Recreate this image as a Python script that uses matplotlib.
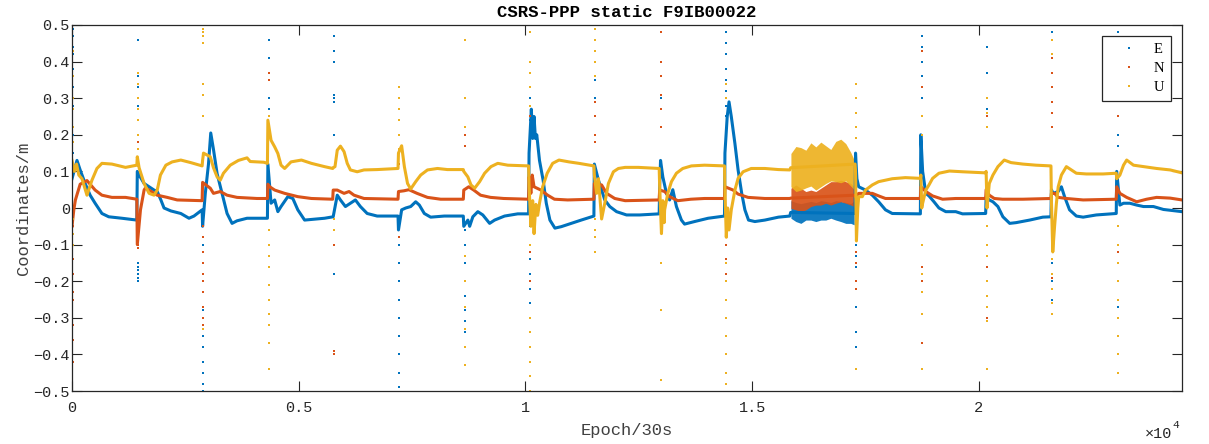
import matplotlib
matplotlib.use("Agg")
import matplotlib.pyplot as plt
from matplotlib.lines import Line2D
import numpy as np

# converged ENU curves, (epoch, metres), 12h sessions of 1440 epochs
E_pts = [(0, 0.08), (110, 0.13), (180, 0.104), (290, 0.067), (400, 0.035), (510, 0.013), (660, -0.015), (810, -0.024), (1100, -0.028), (1430, -0.033),
         (1440, 0.1), (1480, 0.09), (1590, 0.067), (1810, 0.049), (1880, 0.045), (1960, 0.022), (2030, 0.0), (2180, -0.008), (2400, -0.015), (2580, -0.028), (2690, -0.022), (2870, -0.005),
         (2880, -0.05), (2940, 0.04), (3010, 0.12), (3060, 0.205), (3120, 0.16), (3200, 0.094), (3310, 0.04), (3420, -0.015), (3530, -0.042), (3640, -0.035), (3860, -0.028), (4310, -0.028),
         (4320, 0.12), (4390, 0.013), (4470, 0.022), (4540, -0.01), (4610, 0.004), (4760, 0.031), (4870, 0.026), (4980, -0.005), (5130, -0.033), (5570, -0.028), (5750, -0.024),
         (5760, -0.024), (5850, 0.035), (5920, 0.022), (6030, 0.004), (6140, 0.013), (6250, 0.022), (6360, 0.004), (6510, -0.015), (6730, -0.022), (7190, -0.022),
         (7200, -0.06), (7270, -0.005), (7360, 0.0), (7470, 0.004), (7580, 0.017), (7660, 0.008), (7770, -0.015), (7910, -0.025), (8210, -0.022), (8630, -0.022),
         (8640, -0.05), (8730, -0.033), (8770, -0.05), (8840, -0.024), (8950, -0.01), (9060, -0.019), (9210, -0.042), (9320, -0.033), (9540, -0.022), (9830, -0.016), (10070, -0.016),
         (10080, 0.15), (10110, 0.22), (10130, 0.27), (10160, 0.19), (10190, 0.25), (10220, 0.19), (10250, 0.2), (10310, 0.13), (10390, 0.076), (10460, 0.013), (10540, -0.033), (10650, -0.055), (10790, -0.051), (11010, -0.042), (11230, -0.033), (11510, -0.022),
         (11520, 0.12), (11610, 0.076), (11680, 0.049), (11750, 0.022), (11860, 0.004), (12010, -0.01), (12230, -0.019), (12520, -0.019), (12950, -0.016),
         (12960, 0.06), (12980, 0.13), (13030, 0.085), (13110, 0.04), (13180, 0.022), (13250, 0.05), (13330, 0.004), (13440, -0.033), (13510, -0.044), (13730, -0.037), (14030, -0.028), (14390, -0.022),
         (14400, 0.15), (14450, 0.25), (14490, 0.29), (14540, 0.25), (14620, 0.176), (14690, 0.104), (14770, 0.04), (14840, -0.005), (14920, -0.033), (15060, -0.037), (15280, -0.033), (15580, -0.025), (15830, -0.022),
         (15850, -0.012), (17270, -0.015),
         (17280, 0.15), (17310, 0.08), (17350, 0.058), (17500, 0.049), (17650, 0.035), (17790, 0.017), (17940, -0.005), (18090, -0.015), (18710, -0.016),
         (18720, 0.2), (18760, 0.1), (18830, 0.04), (18900, 0.033), (19010, 0.017), (19120, 0.0), (19270, -0.01), (19490, -0.01), (19640, -0.016), (20150, -0.015),
         (20160, 0.03), (20230, 0.022), (20310, 0.017), (20420, 0.004), (20530, -0.024), (20680, -0.042), (20820, -0.04), (21120, -0.033), (21410, -0.025), (21590, -0.024),
         (21600, 0.05), (21640, 0.04), (21750, 0.045), (21820, 0.058), (21890, 0.031), (22000, -0.005), (22150, -0.022), (22300, -0.025), (22590, -0.019), (23030, -0.015),
         (23040, 0.1), (23110, 0.008), (23190, 0.013), (23330, 0.013), (23480, 0.008), (23630, 0.004), (23850, 0.004), (24070, -0.004), (24480, -0.01)]

N_pts = [(0, -0.05), (40, -0.005), (75, 0.022), (180, 0.065), (330, 0.075), (510, 0.049), (660, 0.035), (880, 0.029), (1180, 0.029), (1430, 0.024),
         (1440, -0.1), (1510, -0.005), (1590, 0.049), (1620, 0.055), (1880, 0.035), (2100, 0.029), (2320, 0.022), (2870, 0.02),
         (2880, 0.07), (3050, 0.054), (3120, 0.04), (3270, 0.045), (3420, 0.035), (3640, 0.029), (4080, 0.026), (4310, 0.026),
         (4320, 0.065), (4360, 0.058), (4470, 0.049), (4690, 0.04), (4980, 0.031), (5280, 0.026), (5750, 0.024),
         (5760, 0.049), (5850, 0.049), (6000, 0.04), (6110, 0.045), (6220, 0.035), (6440, 0.026), (7190, 0.024),
         (7200, 0.045), (7320, 0.047), (7430, 0.05), (7610, 0.04), (7840, 0.029), (8130, 0.024), (8630, 0.024),
         (8640, 0.049), (8750, 0.058), (8860, 0.049), (9010, 0.035), (9230, 0.029), (9520, 0.026), (10070, 0.024),
         (10080, 0.085), (10120, 0.04), (10150, 0.09), (10190, 0.058), (10340, 0.049), (10490, 0.035), (10640, 0.024), (10930, 0.022), (11510, 0.024),
         (11520, 0.067), (11680, 0.063), (11790, 0.04), (11970, 0.026), (12200, 0.02), (12950, 0.022),
         (12960, 0.049), (13070, 0.045), (13180, 0.031), (13360, 0.02), (13650, 0.024), (13950, 0.026), (14390, 0.026),
         (14400, 0.058), (14580, 0.049), (14690, 0.038), (14910, 0.029), (15280, 0.026), (15830, 0.026),
         (15850, 0.027), (17270, 0.035),
         (17280, 0.03), (17350, 0.04), (17500, 0.04), (17650, 0.04), (17790, 0.033), (17940, 0.026), (18710, 0.026),
         (18720, 0.058), (18830, 0.045), (18980, 0.033), (19200, 0.024), (19490, 0.026), (20150, 0.026),
         (20160, 0.05), (20230, 0.035), (20340, 0.026), (20520, 0.024), (20970, 0.024), (21590, 0.026),
         (21600, 0.04), (21670, 0.04), (21750, 0.029), (21930, 0.026), (22300, 0.022), (23030, 0.024),
         (23040, 0.058), (23110, 0.04), (23260, 0.029), (23480, 0.017), (23700, 0.024), (23920, 0.029), (24220, 0.027), (24480, 0.022)]

U_pts = [(0, 0.13), (50, 0.1), (100, 0.12), (150, 0.09), (220, 0.08), (330, 0.035), (440, 0.076), (550, 0.108), (660, 0.122), (880, 0.12), (1180, 0.111), (1430, 0.117),
         (1440, 0.14), (1480, 0.11), (1590, 0.067), (1700, 0.04), (1810, 0.035), (1880, 0.049), (1950, 0.09), (2070, 0.117), (2210, 0.126), (2400, 0.131), (2620, 0.124), (2870, 0.115),
         (2880, 0.13), (2900, 0.15), (3050, 0.14), (3120, 0.11), (3200, 0.085), (3270, 0.076), (3340, 0.095), (3490, 0.117), (3670, 0.13), (3860, 0.137), (3930, 0.127), (4230, 0.125), (4310, 0.122),
         (4320, 0.24), (4390, 0.185), (4470, 0.167), (4540, 0.149), (4610, 0.117), (4690, 0.108), (4830, 0.126), (5060, 0.131), (5280, 0.122), (5570, 0.113), (5750, 0.108),
         (5760, 0.11), (5800, 0.113), (5850, 0.158), (5920, 0.169), (6000, 0.154), (6070, 0.122), (6140, 0.104), (6290, 0.099), (6440, 0.104), (6730, 0.105), (7190, 0.108),
         (7200, 0.15), (7270, 0.17), (7330, 0.113), (7400, 0.067), (7470, 0.052), (7580, 0.072), (7690, 0.09), (7840, 0.104), (8060, 0.108), (8280, 0.105), (8630, 0.105),
         (8640, 0.1), (8730, 0.085), (8800, 0.063), (8880, 0.054), (8990, 0.072), (9100, 0.095), (9240, 0.113), (9390, 0.122), (9610, 0.117), (10070, 0.115),
         (10080, 0.06), (10120, -0.05), (10160, 0.02), (10190, -0.07), (10230, 0.01), (10270, -0.02), (10310, 0.013), (10380, 0.058), (10480, 0.095), (10600, 0.122), (10740, 0.131), (10960, 0.126), (11180, 0.122), (11510, 0.115),
         (11520, 0.09), (11570, 0.04), (11610, 0.08), (11680, -0.03), (11750, 0.013), (11830, 0.067), (11940, 0.099), (12050, 0.108), (12200, 0.111), (12490, 0.111), (12950, 0.108),
         (12960, 0.06), (13000, -0.07), (13030, 0.02), (13060, -0.04), (13070, -0.005), (13140, 0.04), (13220, 0.072), (13330, 0.095), (13470, 0.108), (13660, 0.115), (13950, 0.117), (14390, 0.115),
         (14400, 0.05), (14430, -0.08), (14460, 0.0), (14490, -0.06), (14540, -0.005), (14620, 0.049), (14690, 0.081), (14800, 0.099), (14980, 0.108), (15280, 0.108), (15580, 0.105), (15830, 0.104),
         (15850, 0.11), (17270, 0.12),
         (17280, 0.1), (17300, -0.09), (17330, 0.0), (17350, 0.031), (17430, 0.031), (17500, 0.049), (17650, 0.063), (17790, 0.072), (17940, 0.076), (18090, 0.08), (18380, 0.083), (18710, 0.081),
         (18720, 0.09), (18740, 0.0), (18760, 0.013), (18830, 0.049), (18900, 0.063), (18980, 0.081), (19120, 0.095), (19350, 0.101), (19640, 0.099), (20150, 0.096),
         (20160, 0.1), (20180, 0.0), (20230, 0.067), (20310, 0.09), (20420, 0.113), (20560, 0.131), (20710, 0.124), (20970, 0.12), (21260, 0.117), (21590, 0.115),
         (21600, 0.02), (21630, -0.12), (21670, -0.05), (21710, 0.013), (21750, 0.058), (21820, 0.09), (21930, 0.113), (22040, 0.104), (22150, 0.095), (22370, 0.093), (22740, 0.093), (23030, 0.095),
         (23040, 0.08), (23110, 0.09), (23190, 0.117), (23260, 0.131), (23410, 0.117), (23630, 0.113), (23920, 0.108), (24220, 0.104), (24480, 0.096)]

# noisy session (epochs 15840-17280): envelope of the scatter
noise_t = [15855, 15965, 16075, 16185, 16295, 16405, 16515, 16625, 16735, 16845, 16955, 17065, 17175, 17250]
E_hi = [0.02, 0.015, 0.012, 0.015, 0.018, 0.015, 0.02, 0.018, 0.015, 0.02, 0.018, 0.015, 0.012, 0.02]
E_lo = [-0.028, -0.037, -0.042, -0.033, -0.033, -0.037, -0.033, -0.033, -0.028, -0.033, -0.037, -0.042, -0.042, -0.046]
N_hi = [0.054, 0.063, 0.054, 0.045, 0.049, 0.045, 0.054, 0.063, 0.072, 0.072, 0.076, 0.072, 0.067, 0.058]
N_lo = [-0.001, -0.005, -0.01, -0.005, 0.004, 0.008, 0.008, 0.013, 0.008, 0.013, 0.017, 0.013, 0.008, 0.004]
U_hi = [0.149, 0.168, 0.165, 0.158, 0.178, 0.167, 0.18, 0.17, 0.16, 0.182, 0.188, 0.176, 0.152, 0.131]
U_lo = [0.058, 0.045, 0.049, 0.055, 0.06, 0.049, 0.058, 0.067, 0.074, 0.072, 0.069, 0.074, 0.06, 0.05]

# outliers at each session restart
spike_t = [0, 1440, 2880, 4320, 5760, 7200, 8640, 10080, 11520, 12960, 14400, 17280, 18720, 20160, 21600, 23040]
spike_E = [[0.49, 0.47, 0.44, 0.42, 0.38, 0.33, 0.28, 0.2, 0.15],
           [0.46, 0.36, 0.33, 0.28, 0.2, -0.15, -0.16, -0.17, -0.18, -0.19, -0.2],
           [-0.05, -0.1, -0.2, -0.28, -0.35, -0.38, -0.42, -0.45, -0.48, -0.5],
           [0.46, 0.41, 0.37, 0.3, 0.27, 0.22],
           [0.47, 0.43, 0.4, 0.31, 0.3, 0.29, 0.2, -0.18],
           [-0.05, -0.1, -0.15, -0.2, -0.25, -0.3, -0.35, -0.4, -0.45, -0.49],
           [-0.06, -0.1, -0.15, -0.2, -0.24, -0.28, -0.31, -0.34],
           [0.3, 0.24, -0.05, -0.1, -0.14, -0.18, -0.22, -0.26],
           [0.5, 0.35, 0.3, 0.25, 0.2],
           [0.4, 0.3, 0.22],
           [0.48, 0.45, 0.42, 0.38, 0.35, 0.32, 0.28, 0.25, 0.2],
           [0.19, -0.1, -0.13, -0.16, -0.2, -0.27, -0.34, -0.38],
           [0.47, 0.44, 0.4, 0.36, 0.3],
           [0.44, 0.37, 0.3, 0.27],
           [0.48, -0.05, -0.1, -0.15, -0.2, -0.25],
           [0.48, 0.2, 0.17, -0.1, -0.15, -0.2, -0.27]]
spike_N = [[-0.05, -0.1, -0.14, -0.18, -0.23, -0.25, -0.32, -0.36, -0.42],
           [0.24, 0.18, -0.05, -0.07, -0.08, -0.09, -0.1, -0.11],
           [-0.05, -0.08, -0.12, -0.15, -0.18, -0.2, -0.23, -0.27, -0.3, -0.32],
           [0.37, 0.35, 0.2],
           [-0.1, -0.39, -0.4],
           [0.15, 0.12, -0.08],
           [0.3, 0.2, 0.17],
           [0.25, -0.12, -0.2],
           [0.29, 0.25, 0.2, 0.18],
           [0.48, 0.4, 0.36, 0.31, 0.27, 0.22],
           [-0.05, -0.1, -0.14, -0.18, -0.25],
           [-0.06, -0.08, -0.12, -0.15, -0.2, -0.22],
           [0.43, 0.33, 0.25, -0.16, -0.2, -0.37],
           [0.3, 0.25, -0.16, -0.3],
           [0.41, 0.37, 0.33, 0.29, 0.26, 0.22, -0.19],
           [0.25, -0.05, -0.12]]
spike_U = [[0.43, 0.36, 0.3, 0.27, 0.22, 0.18, -0.03, -0.07, -0.1],
           [0.37, 0.34, 0.3, 0.27, 0.24, 0.2, 0.16],
           [0.49, 0.48, 0.47, 0.45, 0.34, 0.31, 0.25, -0.33],
           [0.25, 0.22, -0.06, -0.1, -0.13, -0.16, -0.21, -0.25, -0.29, -0.32, -0.37, -0.44],
           [-0.03, -0.06],
           [0.33, 0.3, 0.27, 0.24, 0.2, 0.16],
           [0.46, 0.3, 0.22, -0.13, -0.2, -0.27, -0.33, -0.38, -0.43],
           [0.48, 0.4, 0.37, 0.33, 0.28, -0.1, -0.3, -0.34, -0.38, -0.42, -0.46, -0.5],
           [0.49, 0.46, 0.43, 0.4, 0.36, -0.03, -0.06, -0.08, -0.12],
           [-0.15, -0.28, -0.47],
           [0.34, 0.3, -0.08, -0.15, -0.2, -0.25, -0.3, -0.35, -0.4, -0.45, -0.48],
           [0.34, 0.3, 0.26, 0.22, 0.19, -0.44],
           [0.25, 0.2, -0.1, -0.18, -0.23, -0.29, -0.44],
           [0.3, 0.26, 0.22, -0.05, -0.1, -0.13, -0.2, -0.24, -0.27, -0.31, -0.44],
           [0.46, 0.42, -0.05, -0.1, -0.14, -0.18, -0.22, -0.26, -0.29],
           [-0.05, -0.1, -0.15, -0.2, -0.25, -0.3, -0.35, -0.4, -0.45]]

c_E, c_N, c_U = '#0072BD', '#D95319', '#EDB120'
axc = '#262626'
mono = 'Liberation Mono'

fig = plt.figure(figsize=(12.09, 4.44), dpi=100)
ax = fig.add_axes([72 / 1209, 1 - 391 / 444, 1110 / 1209, 366 / 444])

series = [(E_pts, E_lo, E_hi, spike_E, c_E),
          (N_pts, N_lo, N_hi, spike_N, c_N),
          (U_pts, U_lo, U_hi, spike_U, c_U)]
for pts, lo, hi, spk, col in series:
    t, v = np.array(pts).T
    ax.fill_between(noise_t, lo, hi, color=col, lw=0, alpha=0.92)
    ax.plot(t, v, color=col, lw=2.2, solid_joinstyle='round')
    for st, vals in zip(spike_t, spk):
        ax.plot(np.full(len(vals), st + 20), vals, 's', color=col, ms=1.9, mew=0)

ax.set_xlim(0, 24480)
ax.set_ylim(-0.5, 0.5)
ax.set_xticks([0, 5000, 10000, 15000, 20000])
ax.set_xticklabels(['0', '0.5', '1', '1.5', '2'])
yt = np.round(np.arange(-0.5, 0.51, 0.1), 1)
ax.set_yticks(yt)
ax.set_yticklabels(['0' if y == 0 else ('%g' % y).replace('-', '\u2212') for y in yt])
ax.tick_params(direction='in', top=True, right=True, length=7.5, width=0.8,
               colors=axc, labelsize=11)
ax.tick_params(axis='y', pad=1.5)
ax.tick_params(axis='x', pad=7)
for lab in ax.get_xticklabels() + ax.get_yticklabels():
    lab.set_family(mono)
for s in ax.spines.values():
    s.set_color(axc)
    s.set_linewidth(0.9)

ax.set_title('CSRS-PPP static F9IB00022', family=mono, fontsize=12.5,
             fontweight='bold', color='black', pad=6)
ax.set_xlabel('Epoch/30s', family=mono, fontsize=12.3, color='#404040')
ax.xaxis.set_label_coords(0.5, -0.088)
ax.set_ylabel('Coordinates/m', family=mono, fontsize=12.3, color='#404040')
ax.yaxis.set_label_coords(-0.037, 0.5)

ax.text(0.991, -0.117, '\u00d710', transform=ax.transAxes, family=mono,
        fontsize=11, color=axc, ha='right', va='center')
ax.text(0.991, -0.092, '4', transform=ax.transAxes, family=mono,
        fontsize=8, color=axc, ha='left', va='center')

handles = [Line2D([], [], ls='none', marker='s', ms=2.0, mew=0, color=c) for c in (c_E, c_N, c_U)]
leg = ax.legend(handles, ['E', 'N', 'U'], loc='upper right', bbox_to_anchor=(0.990, 0.970),
                borderaxespad=0, fancybox=False, framealpha=1, edgecolor=axc,
                prop={'family': 'Liberation Serif', 'size': 10.5}, handlelength=2.8,
                handletextpad=0.3, labelspacing=0.42, borderpad=0.45)
leg.get_frame().set_linewidth(0.9)

fig.savefig('out.png', dpi=100)
